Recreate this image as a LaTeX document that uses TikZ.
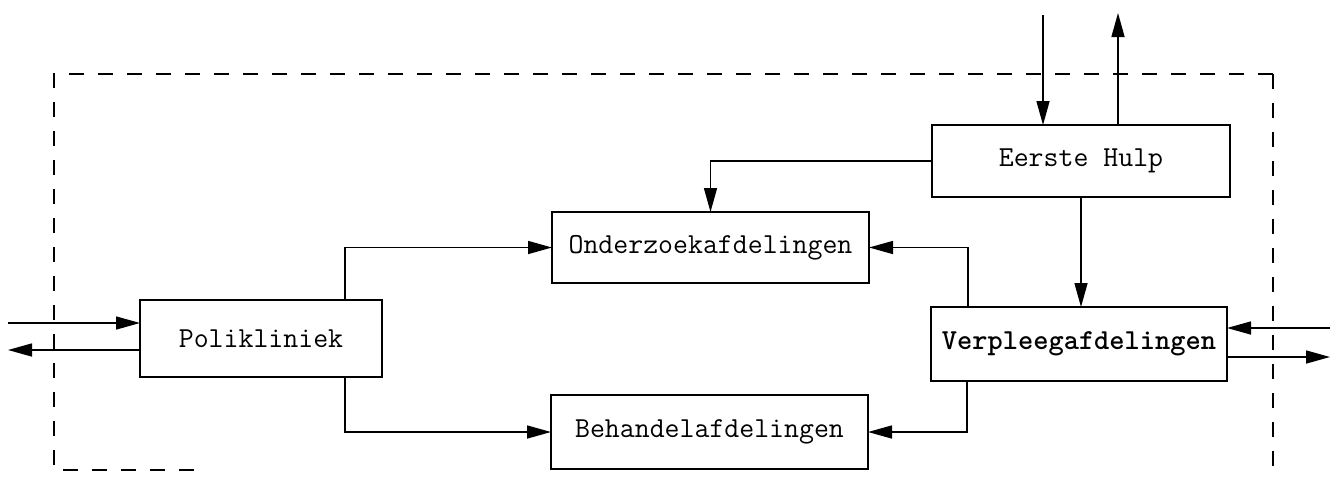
\documentclass[tikz,border=0pt]{standalone}
\usetikzlibrary{arrows.meta}
\begin{document}
\begin{tikzpicture}[x=1pt,y=-1pt,
  unit/.style={draw,line width=2.4pt,inner sep=0pt,outer sep=0pt,
    font=\fontsize{29}{34}\selectfont\ttfamily},
  link/.style={line width=1.5pt,-{Triangle[length=24pt,width=13pt]}},
  border/.style={line width=2pt,dash pattern=on 15pt off 14pt}]
\useasboundingbox[fill=white] (0,0) rectangle (1330,496);

% hospital boundary
\draw[border] (1273,74) -- (54,74) -- (54,470) -- (205,470);
\draw[border] (1273,74) -- (1273,470);

% departments
\node[unit,minimum width=242pt,minimum height=77pt] (poli) at (261,338.5) {Polikliniek};
\node[unit,minimum width=298pt,minimum height=72pt] (eh) at (1081,161) {Eerste Hulp};
\node[unit,minimum width=296pt,minimum height=74pt,font=\fontsize{29}{34}\selectfont\ttfamily\bfseries] (verp) at (1079,344) {Verpleegafdelingen};
\node[unit,minimum width=317pt,minimum height=71pt] (ond) at (710.5,247.5) {Onderzoekafdelingen};
\node[unit,minimum width=317pt,minimum height=74pt] (beh) at (709.5,432) {Behandelafdelingen};

% loose ends outside the boundary
\coordinate (pin) at (8,323);
\coordinate (pout) at (8,350);
\coordinate (ehin) at (1043,15);
\coordinate (ehout) at (1118,13);
\coordinate (vin) at (1330,328);
\coordinate (vout) at (1330,357);

% flows
\draw[link] (pin) -- (pin -| poli.west);
\draw[link] (pout -| poli.west) -- (pout);
\draw[link] (ehin) -- (ehin |- eh.north);
\draw[link] (ehout |- eh.north) -- (ehout);
\draw[link] (vin) -- (vin -| verp.east);
\draw[link] (vout -| verp.east) -- (vout);

\draw[link] ([xshift=84pt]poli.north) |- (ond.west);
\draw[link] ([xshift=84pt]poli.south) |- (beh.west);
\draw[link] (eh.west) -| (ond.north);
\draw[link] (eh.south) -- (eh.south |- verp.north);
\draw[link] ([xshift=-111pt]verp.north) |- (ond.east);
\draw[link] ([xshift=-112pt]verp.south) |- (beh.east);
\end{tikzpicture}
\end{document}
